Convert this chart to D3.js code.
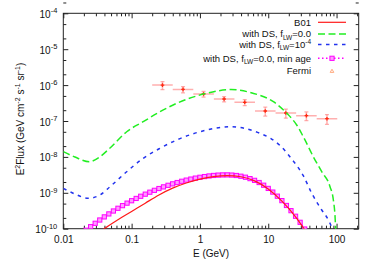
<!DOCTYPE html>
<html>
<head>
<meta charset="utf-8">
<script src="https://cdn.jsdelivr.net/npm/d3@7"></script>
<style>
body { margin: 0; background: #fff; }
svg { font-family: "Liberation Sans", Arial, sans-serif; display: block; }
</style>
</head>
<body>
<svg id="canvas"></svg>
<script>
// E^2 flux spectra, log-log

// Fermi points (energy bins doubling from 0.2 GeV)
let fermiE = [0.283, 0.566, 1.13, 2.26, 4.53, 9.05, 18.1, 36.2, 72.4]
let fermiElo = [0.2, 0.4, 0.8, 1.6, 3.2, 6.4, 12.8, 25.6, 51.2]
let fermiEhi = [0.4, 0.8, 1.6, 3.2, 6.4, 12.8, 25.6, 51.2, 102.4]
let fermiFlux = [1.0e-6, 7.6e-7, 5.65e-7, 4.1e-7, 3.32e-7, 1.9e-7, 1.67e-7, 1.41e-7, 1.16e-7]
let fermiErr = [2.5e-7, 1.5e-7, 1.0e-7, 0.7e-7, 0.63e-7, 0.53e-7, 0.47e-7, 0.38e-7, 0.35e-7]

// with DS, fLW = 0.0
let greenE = [0.01, 0.0148, 0.024, 0.0344, 0.0483, 0.0848, 0.148, 0.261, 0.457, 1.26, 2.85, 5.8, 11.9, 18.7, 26.1, 32.6, 45.7, 60.7, 80.3, 89.8, 95.1, 97.5]
let greenF = [1.40e-8, 9.9e-9, 7.35e-9, 1.01e-8, 1.77e-8, 5.03e-8, 9.57e-8, 1.82e-7, 3.11e-7, 5.92e-7, 7.53e-7, 6.03e-7, 3.45e-7, 1.64e-7, 7.74e-8, 3.66e-8, 1.01e-8, 3.87e-9, 1.48e-9, 6.3e-10, 2.16e-10, 8e-11]

// with DS, fLW = 1e-4
let blueE = [0.01, 0.0148, 0.0232, 0.0344, 0.0483, 0.0848, 0.148, 0.261, 0.457, 1.26, 2.76, 7.59, 11.2, 14.9, 20.9, 32.6, 43.4, 60.7, 75.9, 85.9, 90]
let blueF = [1.33e-9, 9.27e-10, 7.03e-10, 8.69e-10, 1.48e-9, 3.87e-9, 9.14e-9, 1.74e-8, 2.96e-8, 5.61e-8, 6.93e-8, 4.54e-8, 3.15e-8, 2.08e-8, 9.93e-9, 3.0e-9, 9.68e-10, 3.32e-10, 1.75e-10, 1.0e-10, 7e-11]

// with DS, fLW = 0.0, min age
let minAgeE = [0.02154, 0.02512, 0.02929, 0.03415, 0.03981, 0.04642, 0.05412, 0.0631, 0.07356, 0.08577,
               0.1, 0.1166, 0.1359, 0.1585, 0.1848, 0.2154, 0.2512, 0.2929, 0.3415, 0.3981,
               0.4642, 0.5412, 0.631, 0.7356, 0.8577, 1.0, 1.166, 1.359, 1.585, 1.848,
               2.154, 2.512, 2.929, 3.415, 3.981, 4.642, 5.412, 6.31, 7.356, 8.577,
               10, 11.66, 13.59, 15.85, 18.48, 21.54, 25.12, 29.29, 34.15]
let minAgeF = [9.06e-11, 1.138e-10, 1.416e-10, 1.746e-10, 2.133e-10, 2.582e-10, 3.112e-10, 3.707e-10, 4.385e-10, 5.152e-10,
               6.012e-10, 6.966e-10, 8.017e-10, 9.162e-10, 1.040e-9, 1.172e-9, 1.315e-9, 1.462e-9, 1.618e-9, 1.774e-9,
               1.932e-9, 2.094e-9, 2.254e-9, 2.410e-9, 2.564e-9, 2.704e-9, 2.831e-9, 2.944e-9, 3.041e-9, 3.112e-9,
               3.148e-9, 3.155e-9, 3.119e-9, 3.034e-9, 2.897e-9, 2.716e-9, 2.483e-9, 2.223e-9, 1.932e-9, 1.626e-9,
               1.324e-9, 1.047e-9, 8.054e-10, 6.053e-10, 4.436e-10, 3.177e-10, 2.223e-10, 1.507e-10, 9.795e-11]

// B01
let b01E = [0.0316, 0.0398, 0.0631, 0.1, 0.1585, 0.2512, 0.3981, 0.631, 1.0, 1.585, 2.512, 3.981, 6.31, 10, 15.85, 25.12, 35.5]
let b01F = [7.19e-11, 9.98e-11, 1.774e-10, 3.013e-10, 5.152e-10, 8.69e-10, 1.346e-9, 1.875e-9, 2.41e-9, 2.838e-9, 3.013e-9, 2.799e-9, 2.148e-9, 1.279e-9, 5.848e-10, 2.148e-10, 8.45e-11]

let xTicks = [0.01, 0.1, 1, 10, 100]
let xTickLabels = ['0.01', '0.1', '1', '10', '100']
let yTicks = [1e-10, 1e-9, 1e-8, 1e-7, 1e-6, 1e-5, 1e-4]
let yTickExps = ['-10', '-9', '-8', '-7', '-6', '-5', '-4']

//dimensions
let width = 374
let height = 262
let plotLeft = 63.3, plotRight = 358.7, plotTop = 13.3, plotBottom = 228.7

let svg = d3.select('#canvas')
            .attr('width', width)
            .attr('height', height)

let xScale = d3.scaleLog().domain([0.01, 211]).range([plotLeft, plotRight])
let yScale = d3.scaleLog().domain([1e-10, 1e-4]).range([plotBottom, plotTop])

let minorX = []
let minorY = []
for (let d = 0.01; d < 200; d *= 10) {
    for (let m = 2; m <= 9; m++) {
        if (d * m < 211) minorX.push(d * m)
    }
}
for (let d = 1e-10; d < 1e-4; d *= 10) {
    minorY.push(d * 2, d * 5)
}

let drawAxes = () => {
    let axisColor = '#222'
    let addAxis = (axis, tx, ty) => {
        let g = svg.append('g')
                   .attr('transform', 'translate(' + tx + ',' + ty + ')')
                   .call(axis)
        g.select('.domain').remove()
        g.selectAll('line').attr('stroke', axisColor)
        return g
    }

    // minor ticks
    addAxis(d3.axisBottom(xScale).tickValues(minorX).tickSize(-3).tickFormat(''), 0, plotBottom)
    addAxis(d3.axisTop(xScale).tickValues(minorX).tickSize(-3).tickFormat(''), 0, plotTop)
    addAxis(d3.axisLeft(yScale).tickValues(minorY).tickSize(-3).tickFormat(''), plotLeft, 0)
    addAxis(d3.axisRight(yScale).tickValues(minorY).tickSize(-3).tickFormat(''), plotRight, 0)

    // major ticks
    let xAxis = addAxis(d3.axisBottom(xScale).tickValues(xTicks).tickSize(-5).tickPadding(7)
                          .tickFormat((d, i) => xTickLabels[i]), 0, plotBottom)
    xAxis.selectAll('text').attr('font-size', 10).attr('fill', '#111')
         .attr('font-family', '"Liberation Sans", Arial, sans-serif')
    addAxis(d3.axisTop(xScale).tickValues(xTicks).tickSize(-5).tickFormat(''), 0, plotTop)

    let yAxis = addAxis(d3.axisLeft(yScale).tickValues(yTicks).tickSize(-5).tickPadding(6)
                          .tickFormat(''), plotLeft, 0)
    yAxis.selectAll('.tick').each(function (d, i) {
        let t = d3.select(this).select('text')
        t.attr('font-size', 10).attr('fill', '#111').attr('dy', '4')
         .attr('font-family', '"Liberation Sans", Arial, sans-serif')
        t.append('tspan').text('10')
        t.append('tspan').attr('dy', -4.5).attr('font-size', 7.5).text(yTickExps[i])
    })
    addAxis(d3.axisRight(yScale).tickValues(yTicks).tickSize(-5).tickFormat(''), plotRight, 0)

    svg.append('rect')
       .attr('x', plotLeft).attr('y', plotTop)
       .attr('width', plotRight - plotLeft).attr('height', plotBottom - plotTop)
       .attr('fill', 'none').attr('stroke', axisColor).attr('stroke-width', 1)

    svg.append('text')
       .attr('x', 211).attr('y', 257)
       .attr('text-anchor', 'middle').attr('font-size', 10).attr('fill', '#111')
       .text('E (GeV)')

    let yTitle = svg.append('text')
                    .attr('transform', 'translate(24,119) rotate(-90)')
                    .attr('text-anchor', 'middle').attr('font-size', 10).attr('fill', '#111')
    let parts = [['E', 0], ['2', 1], ['Flux (GeV cm', 0], ['-2', 1], [' s', 0], ['-1', 1], [' sr', 0], ['-1', 1], [')', 0]]
    let raised = false
    parts.forEach((p) => {
        let ts = yTitle.append('tspan').text(p[0])
        if (p[1] && !raised) { ts.attr('dy', -4).attr('font-size', 7); raised = true }
        else if (!p[1] && raised) { ts.attr('dy', 4); raised = false }
    })
}

let drawCurves = () => {
    svg.append('clipPath').attr('id', 'plotclip')
       .append('rect').attr('x', plotLeft).attr('y', plotTop)
       .attr('width', plotRight - plotLeft).attr('height', plotBottom - plotTop)

    let plot = svg.append('g').attr('clip-path', 'url(#plotclip)')

    let line = d3.line()
                 .x((d) => xScale(d[0]))
                 .y((d) => yScale(d[1]))
                 .curve(d3.curveMonotoneX)

    let pairs = (xs, ys) => xs.map((x, i) => [x, ys[i]])

    // fermi error bars
    let fermiColor = 'rgba(255, 110, 110, 0.55)'
    let fermi = plot.selectAll('.fermi')
                    .data(fermiE.map((e, i) => i))
                    .enter()
                    .append('g')
    fermi.append('line')
         .attr('x1', (i) => xScale(fermiElo[i])).attr('x2', (i) => xScale(fermiEhi[i]))
         .attr('y1', (i) => yScale(fermiFlux[i])).attr('y2', (i) => yScale(fermiFlux[i]))
         .attr('stroke', fermiColor).attr('stroke-width', 1.5)
    fermi.append('line')
         .attr('x1', (i) => xScale(fermiE[i])).attr('x2', (i) => xScale(fermiE[i]))
         .attr('y1', (i) => yScale(fermiFlux[i] + fermiErr[i])).attr('y2', (i) => yScale(fermiFlux[i] - fermiErr[i]))
         .attr('stroke', fermiColor).attr('stroke-width', 1.5)
    ;[-1, 1].forEach((s) => {
        fermi.append('line')
             .attr('x1', (i) => xScale(fermiE[i]) - 2).attr('x2', (i) => xScale(fermiE[i]) + 2)
             .attr('y1', (i) => yScale(fermiFlux[i] + s * fermiErr[i]))
             .attr('y2', (i) => yScale(fermiFlux[i] + s * fermiErr[i]))
             .attr('stroke', fermiColor).attr('stroke-width', 1.2)
    })
    fermi.append('path')
         .attr('transform', (i) => 'translate(' + xScale(fermiE[i]) + ',' + yScale(fermiFlux[i]) + ')')
         .attr('d', 'M-1.8,0H1.8M0,-1.8V1.8')
         .attr('stroke', '#ff2a10').attr('stroke-width', 1.3)

    plot.append('path')
        .attr('d', line(pairs(greenE, greenF)))
        .attr('fill', 'none').attr('stroke', '#22ee22').attr('stroke-width', 1.5)
        .attr('stroke-dasharray', '7,3.5')

    plot.append('path')
        .attr('d', line(pairs(blueE, blueF)))
        .attr('fill', 'none').attr('stroke', '#2233ee').attr('stroke-width', 1.5)
        .attr('stroke-dasharray', '3.5,4.5')

    plot.append('path')
        .attr('d', line(pairs(minAgeE, minAgeF)))
        .attr('fill', 'none').attr('stroke', '#ff00ff').attr('stroke-width', 1.5)
        .attr('stroke-dasharray', '1.5,2.5')

    plot.selectAll('.sq')
        .data(pairs(minAgeE, minAgeF))
        .enter()
        .append('rect')
        .attr('x', (d) => xScale(d[0]) - 2.1).attr('y', (d) => yScale(d[1]) - 2.1)
        .attr('width', 4.2).attr('height', 4.2)
        .attr('fill', '#ff9cff').attr('stroke', '#ff00ff').attr('stroke-width', 1)

    plot.append('path')
        .attr('d', line(pairs(b01E, b01F)))
        .attr('fill', 'none').attr('stroke', '#ff1a1a').attr('stroke-width', 1.2)
}

let createLegend = () => {
    let legend = svg.append('g').attr('id', 'legend')
                    .attr('font-size', 9.5).attr('fill', '#111')
    let rows = [22.3, 34, 44.6, 58.3, 71]
    let labels = [
        [['B01', 0]],
        [['with DS, f', 0], ['LW', -1], ['=0.0', 0]],
        [['with DS, f', 0], ['LW', -1], ['=10', 0], ['-4', 1]],
        [['with DS, f', 0], ['LW', -1], ['=0.0, min age', 0]],
        [['Fermi', 0]]
    ]
    labels.forEach((parts, r) => {
        let t = legend.append('text')
                      .attr('x', 311).attr('y', rows[r] + 3.3)
                      .attr('text-anchor', 'end')
        let shift = 0
        parts.forEach((p) => {
            let target = p[1] === -1 ? 2.3 : p[1] === 1 ? -3.6 : 0
            let ts = t.append('tspan').text(p[0]).attr('dy', target - shift)
            if (p[1] !== 0) ts.attr('font-size', 6.5)
            shift = target
        })
    })

    let x1 = 318, x2 = 346
    legend.append('line').attr('x1', x1).attr('x2', x2).attr('y1', rows[0]).attr('y2', rows[0])
          .attr('stroke', '#ff1a1a').attr('stroke-width', 1.2)
    legend.append('line').attr('x1', x1).attr('x2', x2).attr('y1', rows[1]).attr('y2', rows[1])
          .attr('stroke', '#22ee22').attr('stroke-width', 1.5).attr('stroke-dasharray', '7,3.5')
    legend.append('line').attr('x1', x1).attr('x2', x2).attr('y1', rows[2]).attr('y2', rows[2])
          .attr('stroke', '#2233ee').attr('stroke-width', 1.5).attr('stroke-dasharray', '3.5,4.5')
    legend.append('line').attr('x1', x1).attr('x2', x2).attr('y1', rows[3]).attr('y2', rows[3])
          .attr('stroke', '#ff00ff').attr('stroke-width', 1.5).attr('stroke-dasharray', '1.5,2.5')
    legend.append('rect').attr('x', 332 - 2.1).attr('y', rows[3] - 2.1)
          .attr('width', 4.2).attr('height', 4.2)
          .attr('fill', '#ff9cff').attr('stroke', '#ff00ff').attr('stroke-width', 1)
    legend.append('path')
          .attr('transform', 'translate(332,' + rows[4] + ')')
          .attr('d', 'M0,-1.8L1.8,1.4H-1.8Z')
          .attr('fill', 'none').attr('stroke', '#ffa070').attr('stroke-width', 0.9)
}

drawAxes()
drawCurves()
createLegend()
</script>
</body>
</html>
